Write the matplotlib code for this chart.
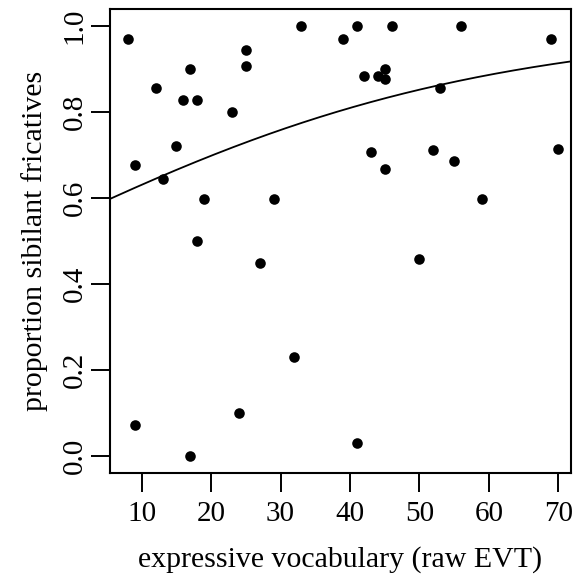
import numpy as np
import matplotlib
matplotlib.use("Agg")
import matplotlib.pyplot as plt

# data
vocab = [8, 33, 25, 25, 17, 12, 16, 18, 23, 15, 9, 13, 19, 29, 18,
         39, 41, 46, 56, 69, 42, 44, 45, 45, 53, 43, 52, 55, 45, 70, 59,
         27, 32, 9, 24, 17, 50, 41]
prop_sib = [0.97, 1.0, 0.944, 0.907, 0.90, 0.855, 0.828, 0.828, 0.80, 0.72, 0.678, 0.645, 0.598, 0.598, 0.50,
            0.97, 1.0, 1.0, 1.0, 0.97, 0.883, 0.885, 0.90, 0.877, 0.855, 0.706, 0.711, 0.687, 0.668, 0.715, 0.598,
            0.448, 0.229, 0.071, 0.099, 0.0, 0.458, 0.029]

# logistic fit coefficients (logit scale)
fit_intercept = 0.232
fit_slope = 0.0304

x_ticks = [10, 20, 30, 40, 50, 60, 70]
y_ticks = [0.0, 0.2, 0.4, 0.6, 0.8, 1.0]

plt.rcParams['font.family'] = ['Liberation Serif', 'DejaVu Serif']

fig = plt.figure(figsize=(5.76, 5.82), dpi=100)
ax = fig.add_axes([110/576, 1 - 473/582, (570.7 - 110)/576, (473 - 9)/582])

ax.scatter(vocab, prop_sib, s=58, color='black', zorder=3, linewidths=0)

xlim = (5.43, 71.8)
xs = np.linspace(xlim[0], xlim[1], 300)
ys = 1 / (1 + np.exp(-(fit_intercept + fit_slope * xs)))
ax.plot(xs, ys, color='black', lw=1.3)

ax.set_xlim(*xlim)
ax.set_ylim(-0.04, 1.04)
ax.set_xticks(x_ticks)
ax.set_xticklabels([str(t) for t in x_ticks])
ax.set_yticks(y_ticks)
ax.set_yticklabels([f"{t:.1f}" for t in y_ticks], rotation=90, va='center')

for s in ax.spines.values():
    s.set_linewidth(1.5)
ax.tick_params(axis='both', direction='out', length=14, width=1.4, labelsize=21, colors='black')
ax.tick_params(axis='x', pad=6)
ax.tick_params(axis='y', pad=2)

ax.set_xlabel("expressive vocabulary (raw EVT)", fontsize=21.5, labelpad=14)
ax.set_ylabel("proportion sibilant fricatives", fontsize=21.5, labelpad=10)

fig.savefig("out.png", dpi=100)
